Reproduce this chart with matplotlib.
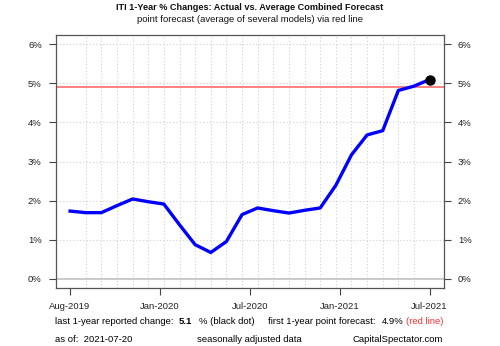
import numpy as np
import matplotlib
matplotlib.use('Agg')
import matplotlib.pyplot as plt

plt.rcParams['font.family'] = ['Liberation Sans', 'DejaVu Sans']

# monthly 1-year % changes, Aug-2019 .. Jul-2021
months = ['Aug-2019', 'Sep-2019', 'Oct-2019', 'Nov-2019', 'Dec-2019', 'Jan-2020',
          'Feb-2020', 'Mar-2020', 'Apr-2020', 'May-2020', 'Jun-2020', 'Jul-2020',
          'Aug-2020', 'Sep-2020', 'Oct-2020', 'Nov-2020', 'Dec-2020', 'Jan-2021',
          'Feb-2021', 'Mar-2021', 'Apr-2021', 'May-2021', 'Jun-2021', 'Jul-2021']
actual = [1.73, 1.69, 1.69, 1.87, 2.04, 1.97, 1.91, 1.38, 0.87, 0.67, 0.95, 1.64,
          1.81, 1.74, 1.68, 1.75, 1.81, 2.39, 3.17, 3.68, 3.79, 4.82, 4.93, 5.10]
forecast = 4.9
yticks = [0, 1, 2, 3, 4, 5, 6]

W, H = 500, 346
fig = plt.figure(figsize=(W / 100, H / 100), dpi=100)

def px(x, y):
    return x / W, 1 - y / H

l, t, r, b = 55.7, 35, 444, 288
ax = fig.add_axes([l / W, 1 - b / H, (r - l) / W, (b - t) / H])

n = len(actual)
idx = np.arange(n)
pad = 0.04 * (n - 1)
ax.set_xlim(-pad, n - 1 + pad)
ax.set_ylim(-0.24, 6.24)

# grid
ax.set_xticks(idx, minor=True)
ax.set_yticks(yticks)
ax.grid(True, which='minor', axis='x', color='#d0d0d0', linestyle=(0, (1, 2)), linewidth=0.8)
ax.grid(True, which='major', axis='y', color='#d0d0d0', linestyle=(0, (1, 2)), linewidth=0.8)
ax.axhline(0, color='#c0c0c0', linewidth=1.2, zorder=1)

ax.axhline(forecast, color='#ff8080', linewidth=1.4, zorder=2)
ax.plot(idx, actual, color='#0000ff', linewidth=2.4, zorder=3)
ax.plot(idx[-1], actual[-1], 'o', color='black', markersize=6.5, zorder=4)

tpos = np.linspace(0, n - 1, 5)
ax.set_xticks(tpos)
ax.set_xticklabels([months[int(np.floor(p))] for p in tpos])
ax.set_yticklabels(['%d%%' % v for v in yticks])

ax.tick_params(which='minor', length=0)
ax.tick_params(which='major', direction='out', length=5, width=0.8, color='#444444',
               labelsize=6.8, labelcolor='#222222', pad=5)
ax.tick_params(axis='y', right=True, labelright=True)
ax.tick_params(axis='x', pad=5)
for s in ax.spines.values():
    s.set_color('#555555')
    s.set_linewidth(0.9)

fig.text(*px(250, 7.5), 'ITI 1-Year % Changes: Actual vs. Average Combined Forecast',
         ha='center', va='center', fontsize=6.6, fontweight='bold', color='#111111')
fig.text(*px(250, 19.5), 'point forecast (average of several models) via red line',
         ha='center', va='center', fontsize=6.8, color='#111111')

fs = 6.8
fig.text(*px(55, 322), 'last 1-year reported change:', ha='left', va='center', fontsize=fs)
fig.text(*px(179, 322), '%.1f' % actual[-1], ha='left', va='center', fontsize=fs, fontweight='bold')
fig.text(*px(199, 322), '% (black dot)', ha='left', va='center', fontsize=fs)
fig.text(*px(268, 322), 'first 1-year point forecast:', ha='left', va='center', fontsize=fs)
fig.text(*px(382, 322), '%.1f%%' % forecast, ha='left', va='center', fontsize=fs)
fig.text(*px(443, 322), '(red line)', ha='right', va='center', fontsize=fs, color='#ff3030')
fig.text(*px(55, 339), 'as of:  2021-07-20', ha='left', va='center', fontsize=fs)
fig.text(*px(197, 339), 'seasonally adjusted data', ha='left', va='center', fontsize=fs)
fig.text(*px(443, 339), 'CapitalSpectator.com', ha='right', va='center', fontsize=fs)

fig.savefig('out.png', dpi=100)
